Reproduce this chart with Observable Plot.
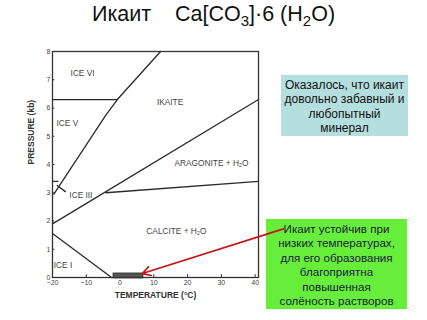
<!DOCTYPE html>
<html>
<head>
<meta charset="utf-8">
<script src="https://cdn.jsdelivr.net/npm/d3@7"></script>
<script src="https://cdn.jsdelivr.net/npm/@observablehq/plot@0.6"></script>
<style>
  html, body { margin: 0; padding: 0; background: #fff; }
  #wrap { position: relative; width: 427px; height: 320px; overflow: hidden; font-family: "Liberation Sans", Arial, sans-serif; }
  #title { position: absolute; left: 0; top: 2px; width: 427px; text-align: center; font-size: 21.5px; color: #111; white-space: pre; line-height: 24px; }
  .sub { font-size: 0.7em; position: relative; top: 0.35em; line-height: 0; }
  .box { position: absolute; text-align: center; font-size: 12px; line-height: 14.4px; box-sizing: border-box; }
  #teal { left: 281px; top: 75px; width: 127px; height: 61px; background: #b5dfdf; color: #111; padding-top: 3px; }
  #green { left: 266px; top: 219px; width: 141px; height: 90px; background: #66ee3a; color: #1b1b3c; padding-top: 3px; font-size: 11.6px; }
  #chart { position: absolute; left: 0; top: 0; }
</style>
</head>
<body>
<div id="wrap">
  <div id="title">Икаит    Ca[CO<span class="sub">3</span>]·6 (H<span class="sub">2</span>O)</div>
  <div class="box" id="teal">Оказалось, что икаит<br>довольно забавный и<br>любопытный<br>минерал</div>
  <div class="box" id="green">Икаит устойчив при<br>низких температурах,<br>для его образования<br>благоприятна<br>повышенная<br>солёность растворов</div>
  <div id="chart"></div>
</div>
<script>
// Axis ticks
const xTicks = [-20, -10, 0, 10, 20, 30, 40];
const yTicks = [0, 1, 2, 3, 4, 5, 6, 7, 8];

// Phase boundaries (temperature °C, pressure kb)
const iceIkaiteT = [-19.6, -4.3, -0.8, 12];
const iceIkaiteP = [2.95, 5.73, 6.3, 8];
const iceVIVT = [-20, -0.8];
const iceVIVP = [6.3, 6.3];
const iceIIIT = [-20, -18.4];
const iceIIIP = [3.4, 3.4];
const iceIIIleaderT = [-18.6, -16.2];
const iceIIIleaderP = [3.26, 3.04];
const ikaiteAragT = [-20, 41];
const ikaiteAragP = [1.9, 6.3];
const calciteAragT = [-4.2, 41];
const calciteAragP = [3.0, 3.4];
const iceIT = [-20, -2.5];
const iceIP = [1.56, 0];

// Region labels
const regionNames = ["ICE VI", "IKAITE", "ICE V", "ARAGONITE + H₂O", "ICE III", "CALCITE + H₂O", "ICE I"];
const regionT = [-11.1, 14.8, -15.6, 27.1, -11.6, 16.7, -16.9];
const regionP = [7.22, 6.19, 5.46, 4.04, 2.9, 1.63, 0.42];

// Ikaite formation range (bar on the temperature axis)
const barT = [-1.9, 6.9];
const barP = [-0.03, 0.14];

// Arrow from the note box to the bar
const arrowT = [48.4, 6.6];
const arrowP = [1.72, 0.14];

const segs = [];
function addSeg(name, T, P) { T.forEach((t, i) => segs.push({name, t, p: P[i]})); }
addSeg("iceIkaite", iceIkaiteT, iceIkaiteP);
addSeg("iceVIV", iceVIVT, iceVIVP);
addSeg("iceIII", iceIIIT, iceIIIP);
addSeg("leader", iceIIIleaderT, iceIIIleaderP);
addSeg("ikaiteArag", ikaiteAragT, ikaiteAragP);
addSeg("calciteArag", calciteAragT, calciteAragP);
addSeg("iceI", iceIT, iceIP);

const regions = regionNames.map((n, i) => ({n, t: regionT[i], p: regionP[i]}));

const plot = Plot.plot({
  width: 427,
  height: 320,
  marginLeft: 52,
  marginRight: 169,
  marginTop: 51,
  marginBottom: 43,
  style: {background: "transparent", fontFamily: "'Liberation Sans', Arial, sans-serif", overflow: "visible"},
  x: {domain: [-20, 41]},
  y: {domain: [0, 8]},
  marks: [
    Plot.axisX({ticks: xTicks, tickSize: 0, tickPadding: 3, fontSize: 7, fill: "#444", label: null}),
    Plot.axisY({ticks: yTicks, tickSize: 0, tickPadding: 2, fontSize: 7, fill: "#444", label: null}),
    Plot.ruleX(xTicks, {x: d => d, y1: 0, y2: 0.1, stroke: "#333", strokeWidth: 1}),
    Plot.ruleY(yTicks, {y: d => d, x1: -20, x2: -19.3, stroke: "#333", strokeWidth: 1}),
    Plot.line(segs, {x: "t", y: "p", z: "name", stroke: "#2a2a2a", strokeWidth: 1.3}),
    Plot.rect([0], {x1: () => barT[0], x2: () => barT[1], y1: () => barP[0], y2: () => barP[1], fill: "#555", stroke: "#333", strokeWidth: 1}),
    Plot.frame({stroke: "#333", strokeWidth: 1.3}),
    Plot.text(regions, {x: "t", y: "p", text: "n", fontSize: 8.3, fill: "#444", textAnchor: "middle"}),
    Plot.text(["TEMPERATURE (°C)"], {frameAnchor: "bottom", dy: 20, fontSize: 8.5, fontWeight: "bold", fill: "#333"}),
    Plot.text(["PRESSURE (kb)"], {frameAnchor: "left", dx: -21, rotate: -90, fontSize: 8.5, fontWeight: "bold", fill: "#333"}),
    Plot.arrow([0], {x1: () => arrowT[0], y1: () => arrowP[0], x2: () => arrowT[1], y2: () => arrowP[1], stroke: "#c81414", strokeWidth: 1.7, headLength: 8})
  ]
});
document.getElementById("chart").appendChild(plot);
</script>
</body>
</html>
